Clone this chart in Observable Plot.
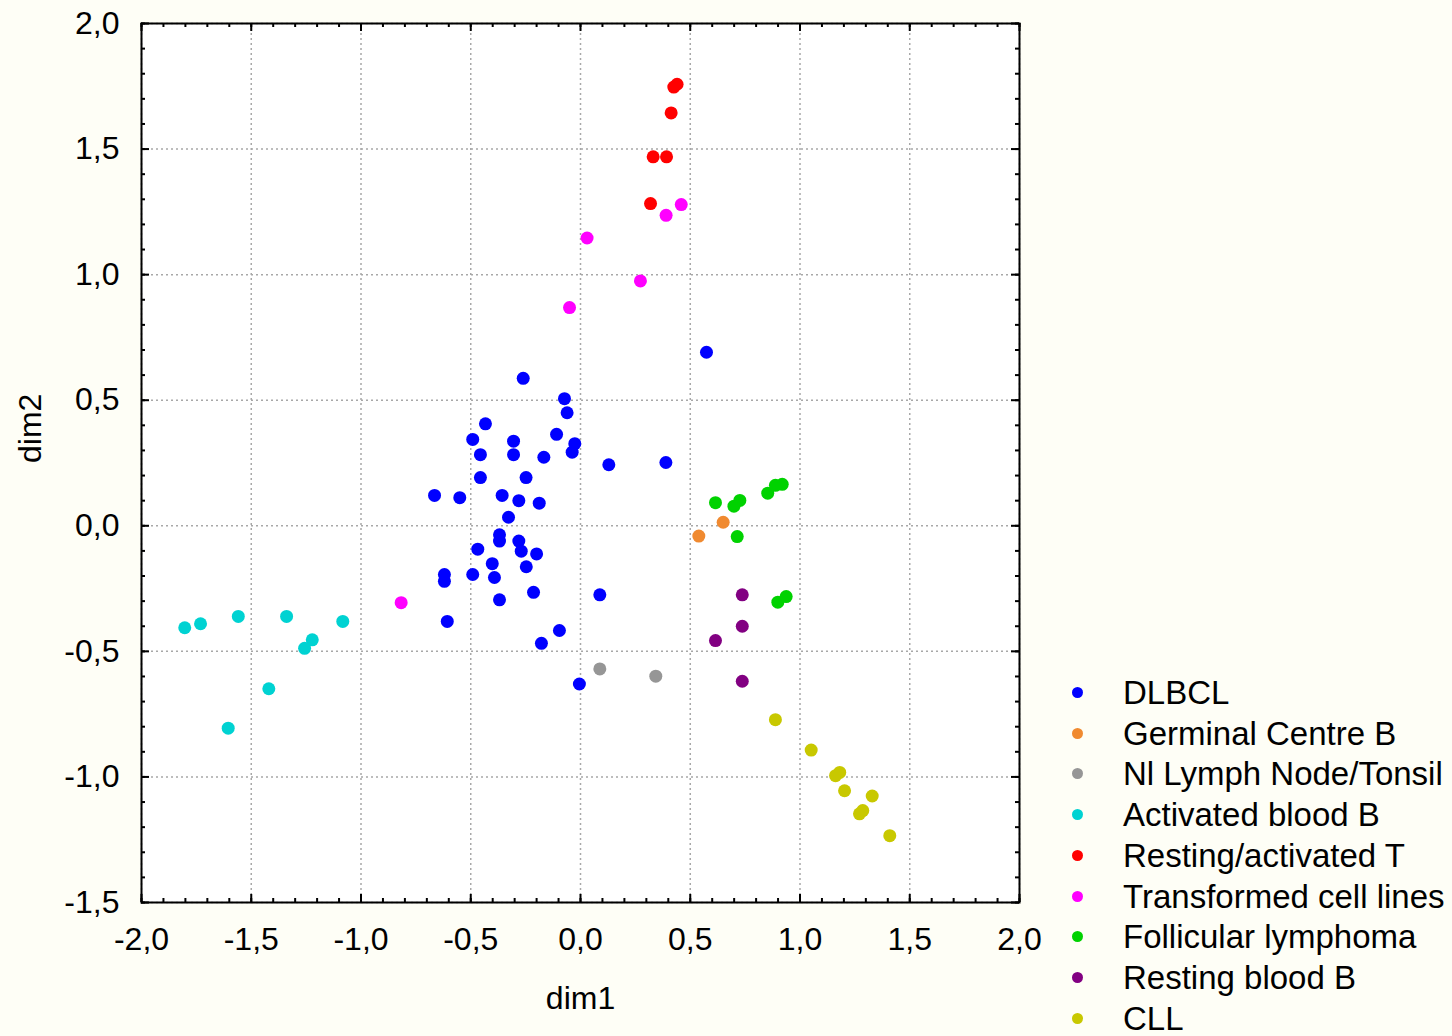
<!DOCTYPE html>
<html>
<head>
<meta charset="utf-8">
<script src="https://cdn.jsdelivr.net/npm/d3@7"></script>
<script src="https://cdn.jsdelivr.net/npm/@observablehq/plot@0.6"></script>
<style>
  html, body { margin: 0; padding: 0; background: #FEFEF6; }
  #wrap { position: relative; width: 1452px; height: 1036px; overflow: hidden; font-family: "Liberation Sans", Arial, sans-serif; }
  #legend { position: absolute; left: 1068px; top: 672px; }
  .row { display: flex; align-items: center; height: 40.75px; }
  .sw { width: 11px; height: 11px; border-radius: 50%; margin-left: 4px; margin-right: 40px; }
  .lb { font-size: 33px; color: #000; white-space: nowrap; line-height: 1; }
</style>
</head>
<body>
<div id="wrap"></div>
<script>
// Group names and colours (legend order)
const groups = ["DLBCL", "Germinal Centre B", "Nl Lymph Node/Tonsil", "Activated blood B",
  "Resting/activated T", "Transformed cell lines", "Follicular lymphoma", "Resting blood B", "CLL"];
const colors = ["#0000FF", "#F08A30", "#969696", "#00D2D2", "#FF0000", "#FF00FF", "#00D200", "#820082", "#C8C800"];

// Point values [dim1, dim2] per group
const dlbcl = [
  [-0.261, 0.587], [-0.073, 0.506], [-0.061, 0.450], [-0.433, 0.406], [-0.109, 0.364],
  [-0.491, 0.344], [-0.305, 0.337], [-0.026, 0.327], [-0.038, 0.293], [-0.456, 0.283],
  [-0.305, 0.283], [-0.167, 0.273], [0.129, 0.243], [-0.456, 0.192], [-0.248, 0.192],
  [-0.665, 0.121], [-0.550, 0.112], [-0.357, 0.121], [-0.281, 0.100], [-0.188, 0.090],
  [-0.328, 0.034], [-0.369, -0.036], [-0.369, -0.061], [-0.281, -0.061], [-0.270, -0.101],
  [-0.468, -0.093], [-0.200, -0.112], [-0.402, -0.151], [-0.247, -0.163], [-0.620, -0.194],
  [-0.620, -0.221], [-0.491, -0.194], [-0.392, -0.206], [-0.214, -0.265], [0.088, -0.275],
  [-0.369, -0.295], [-0.607, -0.381], [-0.096, -0.417], [-0.178, -0.468], [0.389, 0.252],
  [-0.005, -0.630], [0.574, 0.691]
];
const germinalCentreB = [[0.650, 0.014], [0.539, -0.041]];
const lymphNodeTonsil = [[0.088, -0.570], [0.343, -0.599]];
const activatedBloodB = [
  [-1.803, -0.406], [-1.731, -0.390], [-1.559, -0.361], [-1.339, -0.361], [-1.222, -0.454],
  [-1.257, -0.488], [-1.083, -0.381], [-1.420, -0.649], [-1.605, -0.806]
];
const restingActivatedT = [[0.425, 1.747], [0.440, 1.758], [0.413, 1.644], [0.331, 1.469], [0.392, 1.469], [0.319, 1.283]];
const transformedCellLines = [[0.459, 1.279], [0.390, 1.236], [0.030, 1.146], [0.273, 0.975], [-0.050, 0.869], [-0.817, -0.306]];
const follicularLymphoma = [
  [0.615, 0.092], [0.699, 0.078], [0.726, 0.101], [0.853, 0.130], [0.888, 0.161],
  [0.919, 0.165], [0.714, -0.043], [0.899, -0.304], [0.937, -0.282]
];
const restingBloodB = [[0.737, -0.275], [0.737, -0.400], [0.615, -0.457], [0.737, -0.619]];
const cll = [
  [0.888, -0.772], [1.051, -0.893], [1.162, -0.995], [1.181, -0.982], [1.203, -1.055],
  [1.329, -1.076], [1.271, -1.147], [1.286, -1.134], [1.409, -1.234]
];

// Axis ticks
const xTicks = [-2, -1.5, -1, -0.5, 0, 0.5, 1, 1.5, 2];
const yTicks = [-1.5, -1, -0.5, 0, 0.5, 1, 1.5, 2];
const minorTicksX = d3.range(-20, 21).map(d => d / 10);
const minorTicksY = d3.range(-15, 21).map(d => d / 10);
const fmt = d => d3.format(".1f")(d).replace("\u2212", "-").replace(".", ",");

const seriesList = [dlbcl, germinalCentreB, lymphNodeTonsil, activatedBloodB, restingActivatedT,
  transformedCellLines, follicularLymphoma, restingBloodB, cll];
const points = seriesList.flatMap((arr, i) => arr.map(([x, y]) => ({x, y, group: groups[i]})));

const W = 1452, H = 1036, mL = 141, mR = 433, mT = 23, mB = 134;
const fw = W - mL - mR, fh = H - mT - mB;
const minorLen = 4, majorLen = 8;
const tickStyle = {stroke: "black", strokeWidth: 2};

const chart = Plot.plot({
  width: W,
  height: H,
  marginLeft: mL,
  marginRight: mR,
  marginTop: mT,
  marginBottom: mB,
  style: {background: "transparent", fontFamily: "'Liberation Sans', Arial, sans-serif", fontSize: "32px", color: "#000"},
  x: {domain: [-2, 2]},
  y: {domain: [-1.5, 2]},
  color: {domain: groups, range: colors},
  marks: [
    Plot.frame({fill: "white", stroke: null}),
    Plot.gridX(xTicks, {stroke: "#a8a8a8", strokeOpacity: 1, strokeDasharray: "2,3", strokeWidth: 1.5}),
    Plot.gridY(yTicks, {stroke: "#a8a8a8", strokeOpacity: 1, strokeDasharray: "2,3", strokeWidth: 1.5}),
    // inward minor ticks on all four sides
    Plot.ruleX(minorTicksX, {x: d => d, insetTop: fh - minorLen, ...tickStyle}),
    Plot.ruleX(minorTicksX, {x: d => d, insetBottom: fh - minorLen, ...tickStyle}),
    Plot.ruleY(minorTicksY, {y: d => d, insetRight: fw - minorLen, ...tickStyle}),
    Plot.ruleY(minorTicksY, {y: d => d, insetLeft: fw - minorLen, ...tickStyle}),
    // inward major ticks
    Plot.ruleX(xTicks, {x: d => d, insetTop: fh - majorLen, ...tickStyle}),
    Plot.ruleX(xTicks, {x: d => d, insetBottom: fh - majorLen, ...tickStyle}),
    Plot.ruleY(yTicks, {y: d => d, insetRight: fw - majorLen, ...tickStyle}),
    Plot.ruleY(yTicks, {y: d => d, insetLeft: fw - majorLen, ...tickStyle}),
    Plot.axisX(xTicks, {tickSize: 0, tickPadding: 25, tickFormat: fmt, label: null, fontSize: 32}),
    Plot.axisY(yTicks, {tickSize: 0, tickPadding: 22, tickFormat: fmt, label: null, fontSize: 32}),
    Plot.frame({stroke: "black", strokeWidth: 2}),
    Plot.dot(points, {x: "x", y: "y", fill: "group", r: 6.5}),
    Plot.text(["dim1"], {frameAnchor: "bottom", dy: 106, fontSize: 32}),
    Plot.text(["dim2"], {frameAnchor: "left", dx: -111, rotate: -90, fontSize: 32})
  ]
});

const wrap = document.getElementById("wrap");
wrap.appendChild(chart);

const legend = document.createElement("div");
legend.id = "legend";
groups.forEach((g, i) => {
  const row = document.createElement("div");
  row.className = "row";
  const sw = document.createElement("span");
  sw.className = "sw";
  sw.style.background = colors[i];
  const lb = document.createElement("span");
  lb.className = "lb";
  lb.textContent = g;
  row.appendChild(sw);
  row.appendChild(lb);
  legend.appendChild(row);
});
wrap.appendChild(legend);
</script>
</body>
</html>
